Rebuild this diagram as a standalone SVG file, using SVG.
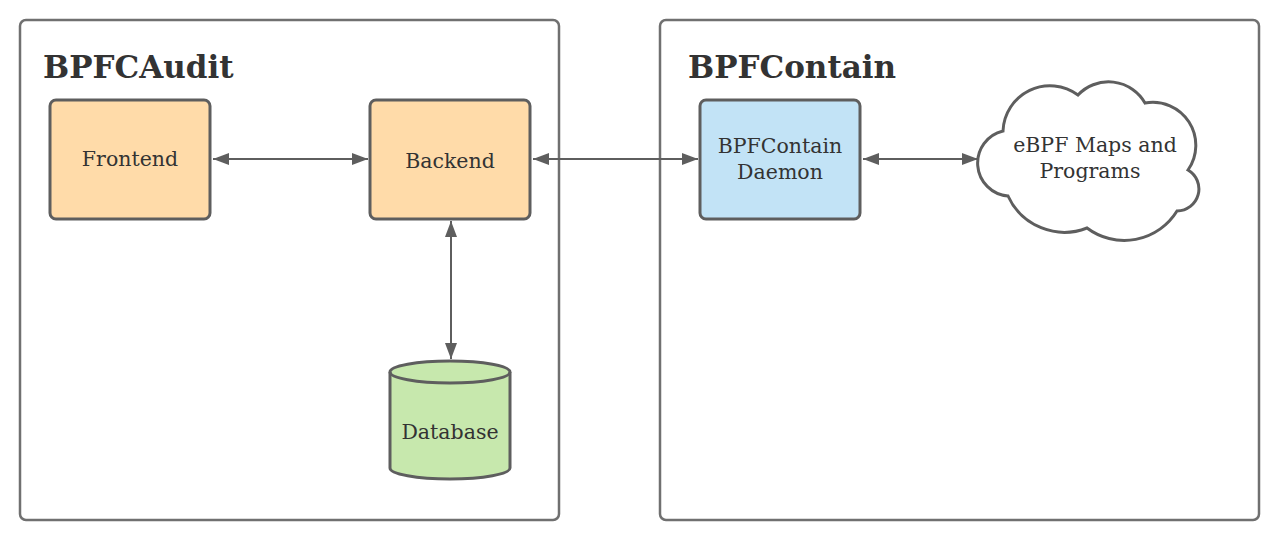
<svg xmlns="http://www.w3.org/2000/svg" width="1280" height="540" viewBox="0 0 1280 540">
<style>
.container{fill:#ffffff;stroke:#707070;stroke-width:2.5}
.title{font-family:"DejaVu Serif","Liberation Serif",serif;font-weight:bold;font-size:31px;fill:#333333}
.node{stroke:#5e5e5e;stroke-width:3}
.label{font-family:"DejaVu Serif","Liberation Serif",serif;font-size:20.5px;fill:#333333;text-anchor:middle}
.orange{fill:#ffdba9}
.blue{fill:#c2e3f6}
.green{fill:#c7e8ad}
.cloud{fill:#ffffff;stroke:#5e5e5e;stroke-width:3}
.conn{stroke:#5e5e5e;stroke-width:2;fill:none;marker-start:url(#arrS);marker-end:url(#arrE)}
</style>
<defs>
<marker id="arrE" viewBox="0 0 16 12" refX="16" refY="6" markerWidth="16" markerHeight="12" markerUnits="userSpaceOnUse" orient="auto">
<path d="M0,0 L16,6 L0,12 Z" fill="#5e5e5e"/>
</marker>
<marker id="arrS" viewBox="0 0 16 12" refX="0" refY="6" markerWidth="16" markerHeight="12" markerUnits="userSpaceOnUse" orient="auto">
<path d="M16,0 L0,6 L16,12 Z" fill="#5e5e5e"/>
</marker>
</defs>
<g id="bpfcaudit">
<rect class="container" x="20" y="20" width="539" height="500" rx="6"/>
<text class="title" x="43" y="78">BPFCAudit</text>
</g>
<g id="bpfcontain">
<rect class="container" x="660" y="20" width="599" height="500" rx="6"/>
<text class="title" x="688" y="78">BPFContain</text>
</g>
<g id="connectors">
<line class="conn" x1="213" y1="159" x2="368" y2="159"/>
<line class="conn" x1="533" y1="159" x2="698" y2="159"/>
<line class="conn" x1="863" y1="159" x2="978" y2="159"/>
<line class="conn" x1="451" y1="221" x2="451" y2="359"/>
</g>
<g id="frontend">
<rect class="node orange" x="50" y="100" width="160" height="119" rx="6"/>
<text class="label" x="130" y="166">Frontend</text>
</g>
<g id="backend">
<rect class="node orange" x="370" y="100" width="160" height="119" rx="6"/>
<text class="label" x="450" y="168">Backend</text>
</g>
<g id="daemon">
<rect class="node blue" x="700" y="100" width="160" height="119" rx="6"/>
<text class="label" x="780" y="153">BPFContain</text>
<text class="label" x="780" y="179">Daemon</text>
</g>
<g id="ebpf">
<path class="cloud" d="M 1008 196 A 33 33 0 0 1 1003 131 A 47 47 0 0 1 1078 95 A 42 42 0 0 1 1145 103 A 43 43 0 0 1 1188 170 A 22 22 0 0 1 1177 211 A 62 62 0 0 1 1087 228 A 62 62 0 0 1 1008 196 Z"/>
<text class="label" x="1095" y="152">eBPF Maps and</text>
<text class="label" x="1090" y="178">Programs</text>
</g>
<g id="database">
<path class="node green" d="M 390 372 L 390 468 A 60 11 0 0 0 510 468 L 510 372 A 60 11 0 0 0 390 372 Z"/>
<path class="node" fill="none" d="M 390 372 A 60 11 0 0 0 510 372"/>
<text class="label" x="450" y="439">Database</text>
</g>
</svg>
